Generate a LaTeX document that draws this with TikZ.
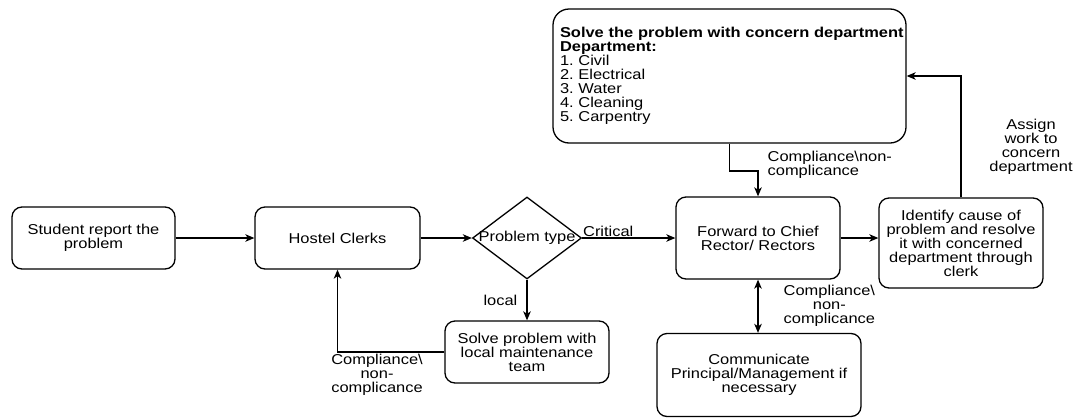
\documentclass[tikz,border=0pt]{standalone}
\usepackage{fontspec}
\setmainfont{Liberation Sans}[FakeStretch=1.15]
\usetikzlibrary{shapes.geometric,arrows.meta}
\begin{document}
\frenchspacing
\begin{tikzpicture}[x=1pt,y=-1pt,
  font=\fontsize{14.3}{14}\selectfont,
  line width=1.3pt,
  box/.style={draw, rounded corners=10pt, align=center, inner sep=0pt},
  lbl/.style={align=center, inner sep=1pt},
  arr/.style={-{Stealth[length=9pt,width=7.5pt,inset=2.5pt]}},
  arrtwo/.style={{Stealth[length=9pt,width=7.5pt,inset=2.5pt]}-{Stealth[length=9pt,width=7.5pt,inset=2.5pt]}}]
\useasboundingbox (0,0) rectangle (1073,418);

\node[box, minimum width=163pt, minimum height=62pt] (stud) at (93.5,238) {Student report the\\problem};
\node[box, minimum width=165pt, minimum height=62pt] (hostel) at (337.5,238) {Hostel Clerks};
\node[draw, diamond, minimum width=109pt, minimum height=82pt, inner sep=0pt,
      label={[inner sep=0pt]center:Problem type}] (dia) at (527,238) {};
\node[box, minimum width=164pt, minimum height=82pt] (fwd) at (758,238) {Forward to Chief\\Rector/ Rectors};
\node[box, minimum width=164pt, minimum height=90pt] (ident) at (961,243) {Identify cause of\\problem and resolve\\it with concerned\\department through\\clerk};
\node[box, rounded corners=16pt, minimum width=353pt, minimum height=134pt, text width=339pt, align=left, inner sep=7pt] (top) at (729.5,76)
  {\makebox[0pt][l]{\textbf{Solve the problem with concern department}}\\\textbf{Department:}\\1. Civil\\2. Electrical\\3. Water\\4. Cleaning\\5. Carpentry\\[5pt]};
\node[box, minimum width=164pt, minimum height=62pt] (local) at (527,352) {Solve problem with\\local maintenance\\team};
\node[box, minimum width=204pt, minimum height=83pt] (comm) at (759,375) {Communicate\\Principal/Management if\\necessary};

\draw[arr] (stud) -- (hostel);
\draw[arr] (hostel) -- (dia);
\draw[arr] (dia) -- node[lbl, above, pos=0.28] (lcrit) {Critical} (fwd);
\draw[arr] (dia) -- node[lbl, left, xshift=-8pt] (lloc) {local} (local);
\draw[arr] (local.west) -- node[lbl, below, pos=0.63] (lcomp1) {Compliance\textbackslash\\non-\\complicance} (hostel.south |- local.west) -- (hostel.south);
\draw[arr] (fwd.east) -- (fwd.east -| ident.west);
\draw[arrtwo] (fwd.south) -- node[lbl, right, xshift=24pt] (lcomp2) {Compliance\textbackslash\\non-\\complicance} (fwd.south |- comm.north);
\coordinate (bend) at (729.5,171);
\draw[arr] (top.south) -- (bend) -| (fwd.north);
\node[lbl, align=left, anchor=west] (lcomp3) at (766,165) {Compliance\textbackslash non-\\complicance};
\draw[arr] (ident.north) |- (top.east);
\node[lbl] (lassign) at (1031,147) {Assign\\work to\\concern\\department};
\end{tikzpicture}
\end{document}
